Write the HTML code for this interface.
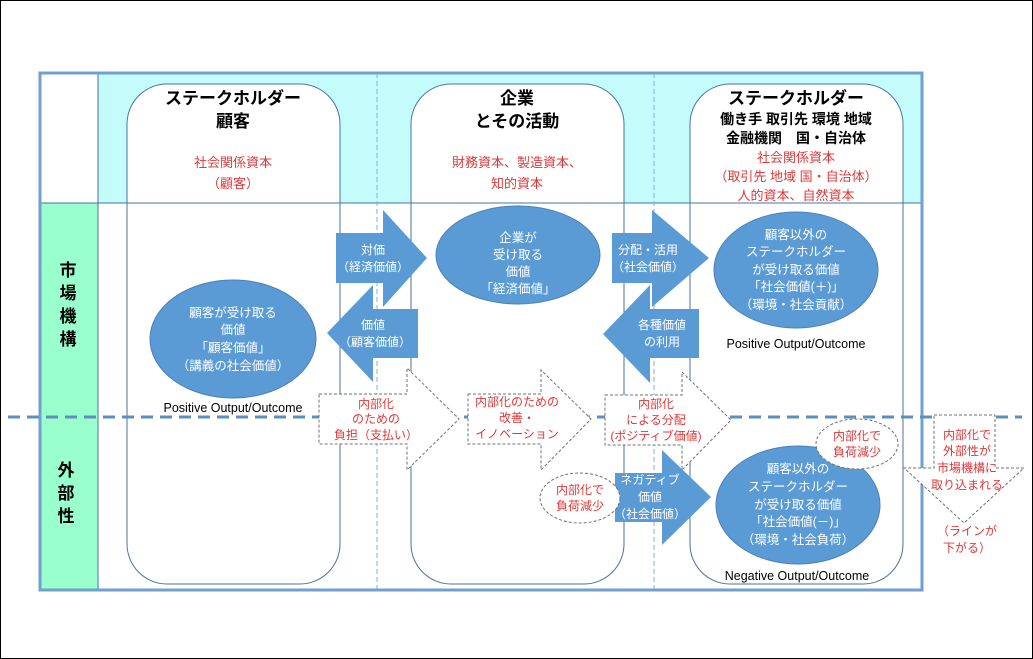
<!DOCTYPE html>
<html><head><meta charset="utf-8"><style>
html,body{margin:0;padding:0;background:#fff}
svg{display:block}
text{font-family:"Liberation Sans","Noto Sans CJK JP",sans-serif}
</style></head><body>
<svg width="1033" height="659" viewBox="0 0 1033 659" xmlns="http://www.w3.org/2000/svg">
<rect x="0.5" y="0.5" width="1032" height="658" fill="#fff" stroke="#000" stroke-width="1"/>
<rect x="98" y="73" width="824" height="130" fill="#c4fcfc"/>
<rect x="40" y="203" width="58" height="387" fill="#99ffcc"/>
<g fill="#fff" stroke="#4a72a0" stroke-width="1">
<rect x="127" y="84" width="213" height="500" rx="40"/>
<rect x="411" y="84" width="213" height="500" rx="40"/>
<rect x="690" y="84" width="213" height="500" rx="40"/>
</g>
<line x1="98" y1="203" x2="922" y2="203" stroke="#4a72a0" stroke-width="1"/>
<line x1="98" y1="73" x2="98" y2="590" stroke="#4a72a0" stroke-width="1"/>
<line x1="40" y1="203" x2="98" y2="203" stroke="#4a72a0" stroke-width="1"/>
<line x1="377" y1="73" x2="377" y2="590" stroke="#8aaed0" stroke-width="1" stroke-dasharray="5,3"/>
<line x1="654" y1="73" x2="654" y2="590" stroke="#8aaed0" stroke-width="1" stroke-dasharray="5,3"/>
<rect x="40" y="73" width="882" height="517" fill="none" stroke="#6fa0d0" stroke-width="3"/>
<line x1="8" y1="417" x2="1022" y2="417" stroke="#5b8fc0" stroke-width="3" stroke-dasharray="12,7"/>

<g font-weight="bold" fill="#000" text-anchor="middle">
<text x="233" y="104" font-size="17">ステークホルダー</text>
<text x="233" y="127" font-size="17">顧客</text>
<text x="517" y="104" font-size="17">企業</text>
<text x="517" y="127" font-size="17">とその活動</text>
<text x="796" y="104" font-size="17">ステークホルダー</text>
<text x="796" y="124" font-size="14">働き手 取引先 環境 地域</text>
<text x="796" y="143" font-size="14">金融機関　国・自治体</text>
</g>
<g fill="#e03838" text-anchor="middle" font-size="13">
<text x="233" y="167">社会関係資本</text>
<text x="233" y="188">（顧客）</text>
<text x="517" y="167">財務資本、製造資本、</text>
<text x="517" y="188">知的資本</text>
<text x="796" y="162">社会関係資本</text>
<text x="796" y="181">（取引先 地域 国・自治体）</text>
<text x="796" y="200">人的資本、自然資本</text>
</g>
<g font-weight="bold" font-size="17" text-anchor="middle">
<text x="68" y="276">市</text><text x="68" y="299">場</text><text x="68" y="322">機</text><text x="68" y="345">構</text>
<text x="66" y="476">外</text><text x="66" y="499">部</text><text x="66" y="522">性</text>
</g>

<g fill="#5b9bd5" stroke="#4a80b8" stroke-width="1">
<ellipse cx="233" cy="339" rx="83" ry="59"/>
<ellipse cx="518" cy="255" rx="82" ry="49"/>
<ellipse cx="796" cy="270" rx="82" ry="58"/>
<ellipse cx="798" cy="505" rx="82" ry="59"/>
</g>
<g fill="#5b9bd5">
<polygon points="336,233 383,233 383,210 427,258 383,307 383,283 336,283"/>
<polygon points="418,309 373,309 373,285 327,333 373,382 373,358 418,358"/>
<polygon points="612,233 652,233 652,210 709,258 652,307 652,283 612,283"/>
<polygon points="699,309 650,309 650,285 603,334 650,383 650,358 699,358"/>
<polygon points="615,473 662,473 662,450 711,497 662,545 662,522 615,522"/>
</g>
<g fill="#fff" font-size="12.5" text-anchor="middle">
<text x="233" y="317">顧客が受け取る</text>
<text x="233" y="334">価値</text>
<text x="233" y="352">「顧客価値」</text>
<text x="233" y="370">（講義の社会価値）</text>
<text x="518" y="242">企業が</text>
<text x="518" y="259">受け取る</text>
<text x="518" y="276">価値</text>
<text x="518" y="293">「経済価値」</text>
<text x="796" y="239">顧客以外の</text>
<text x="796" y="256">ステークホルダー</text>
<text x="796" y="274">が受け取る価値</text>
<text x="796" y="291">「社会価値(＋)」</text>
<text x="796" y="309">（環境・社会貢献）</text>
<text x="798" y="473">顧客以外の</text>
<text x="798" y="491">ステークホルダー</text>
<text x="798" y="509">が受け取る価値</text>
<text x="798" y="526">「社会価値(－)」</text>
<text x="798" y="544">（環境・社会負荷）</text>
<text x="373" y="254" font-size="12">対価</text>
<text x="373" y="271" font-size="12">（経済価値）</text>
<text x="373" y="329" font-size="12">価値</text>
<text x="375" y="346" font-size="12">（顧客価値）</text>
<text x="648" y="254" font-size="12">分配・活用</text>
<text x="648" y="271" font-size="12">（社会価値）</text>
<text x="662" y="329" font-size="12">各種価値</text>
<text x="662" y="346" font-size="12">の利用</text>
<text x="650" y="484" font-size="12">ネガティブ</text>
<text x="650" y="501" font-size="12">価値</text>
<text x="650" y="518" font-size="12">（社会価値）</text>
</g>
<g font-size="12.5" fill="#000" text-anchor="middle">
<text x="233" y="412">Positive Output/Outcome</text>
<text x="796" y="348">Positive Output/Outcome</text>
<text x="797" y="580">Negative Output/Outcome</text>
</g>
<g fill="#fff" stroke="#707070" stroke-width="1" stroke-dasharray="3,2">
<polygon points="319,394 407,394 407,368 459,419 407,470 407,444 319,444"/>
<polygon points="468,394 541,394 541,370 591,419 541,470 541,444 468,444"/>
<polygon points="605,395 682,395 682,372 731,420 682,470 682,445 605,445"/>
<polygon points="934,415 995,415 995,468 1024,468 964,523 904,468 934,468"/>
<ellipse cx="580" cy="498" rx="40" ry="25"/>
<ellipse cx="857" cy="444" rx="41" ry="25"/>
</g>
<g fill="#e03838" font-size="12" text-anchor="middle">
<text x="376" y="408">内部化</text>
<text x="376" y="423">のための</text>
<text x="376" y="439">負担（支払い）</text>
<text x="517" y="406">内部化のための</text>
<text x="517" y="422">改善・</text>
<text x="517" y="438">イノベーション</text>
<text x="656" y="408">内部化</text>
<text x="656" y="424">による分配</text>
<text x="656" y="440">(ポジティブ価値)</text>
<text x="580" y="494">内部化で</text>
<text x="580" y="510">負荷減少</text>
<text x="857" y="440">内部化で</text>
<text x="857" y="456">負荷減少</text>
<text x="967" y="439">内部化で</text>
<text x="967" y="455">外部性が</text>
<text x="967" y="472">市場機構に</text>
<text x="967" y="489">取り込まれる</text>
<text x="967" y="535">（ラインが</text>
<text x="967" y="552">下がる）</text>
</g>
</svg>
</body></html>
